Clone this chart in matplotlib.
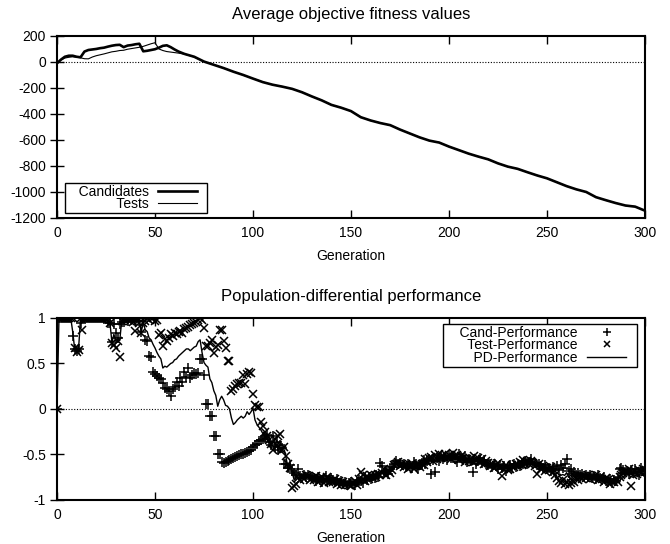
"""
Two-panel coevolution run summary, gnuplot look-alike.

Top:    average objective fitness of candidates and tests per generation
Bottom: population-differential performance (cand, test and PD)

Output: out.png
"""

import numpy as np
import matplotlib
matplotlib.use("Agg")
import matplotlib.pyplot as plt
from matplotlib.legend_handler import HandlerLine2D

plt.rcParams["font.family"] = ["Liberation Sans", "DejaVu Sans"]
plt.rcParams["font.size"] = 10
plt.rcParams["axes.unicode_minus"] = False

# ---- top panel: average objective fitness --------------------------------
FIT_GEN_EARLY = [0, 2, 4, 6, 8, 10, 12, 14, 16, 18, 20, 22, 24, 26, 28, 30,
                 32, 34, 36, 38, 40, 42, 44, 46, 48, 50, 52, 54, 56, 58, 60, 62]
FIT_GEN_LATE = [65, 70, 75, 80, 85, 90, 95, 100, 105, 110, 115, 120, 125, 130,
                135, 140, 145, 150, 155, 160, 165, 170, 175, 180, 185, 190, 195,
                200, 205, 210, 215, 220, 225, 230, 235, 240, 245, 250, 255, 260,
                265, 270, 275, 280, 285, 290, 295, 300]
FIT_GEN = FIT_GEN_EARLY + FIT_GEN_LATE

CAND_FIT = [-10, 18, 40, 48, 48, 40, 36, 80, 92, 96, 100, 106, 110, 118, 125, 130,
            132, 114, 126, 130, 136, 140, 82, 86, 92, 98, 110, 124, 128, 114, 96, 80,
            62, 40, 3, -22, -47, -75, -100, -128, -155, -175, -190, -207, -233, -265,
            -295, -330, -352, -378, -425, -450, -470, -486, -520, -550, -580, -605,
            -620, -651, -678, -705, -728, -749, -780, -805, -822, -848, -873, -895,
            -925, -955, -980, -1000, -1040, -1063, -1085, -1104, -1113, -1144]

TEST_FIT = [-3, 15, 30, 36, 40, 36, 32, 25, 24, 38, 48, 55, 62, 70, 78, 82,
            88, 90, 98, 103, 108, 113, 120, 130, 140, 148, 100, 88, 80, 76, 72, 68,
            60, 38, 2, -21, -48, -74, -101, -127, -154, -176, -189, -208, -232, -266,
            -294, -331, -351, -379, -424, -451, -469, -487, -519, -551, -579, -606,
            -619, -652, -677, -706, -727, -750, -779, -806, -821, -849, -872, -896,
            -924, -956, -979, -1001, -1039, -1064, -1084, -1105, -1112, -1145]

# ---- bottom panel: population-differential performance -------------------
PERF_GEN = np.arange(0, 301)

CAND_PERF = [
    0, 1, 1, 1, 1, 1, 1, 1, .80, .66,                              # 0-9
    .64, .66, .95, 1, 1, 1, 1, 1, 1, 1,                            # 10-19
    1, 1, 1, 1, 1, 1, .94, .94, .74, .93,                          # 20-29
    .84, .78, .93, .96, .96, 1, .97, 1, .98, 1,                    # 30-39
    .97, 1, .97, .85, 1, .76, .75, .58, .57, .41,                  # 40-49
    .38, .36, .34, .33, .28, .23, .22, .20, .14, .22,              # 50-59
    .24, .30, .25, .34, .30, .41, .35, .45, .34, .37,              # 60-69
    .40, .38, .39, .55, .55, .37, .05, .06, -.08, -.08,            # 70-79
    -.30, -.30, -.49, -.50, -.58, -.59, -.58, -.57, -.56, -.55,    # 80-89
    -.54, -.53, -.52, -.51, -.50, -.49, -.48, -.47, -.46, -.45,    # 90-99
    -.42, -.40, -.38, -.35, -.34, -.33, -.31, -.29, -.36, -.40,    # 100-109
    -.30, -.42, -.36, -.45, -.40, -.43, -.60, -.60, -.65, -.62,    # 110-119
    -.68, -.70, -.72, -.66, -.74, -.76, -.73, -.75, -.72, -.74, -.75,  # 120-130
    -.76, -.79, -.75, -.78, -.80, -.77, -.74, -.79, -.78, -.76,    # 131-140
    -.78, -.80, -.77, -.81, -.79, -.82, -.80, -.83, -.81, -.80,
    -.82, -.84, -.80, -.78, -.79, -.81, -.76, -.78, -.75, -.77,
    -.74, -.76, -.72, -.75, -.59, -.63, -.70, -.68, -.71, -.66,
    -.64, -.60, -.57, -.61, -.59, -.62, -.60, -.64, -.61, -.63,
    -.65, -.58, -.60, -.66, -.62, -.59, -.56, -.60, -.57, -.55,
    -.71, -.56, -.69, -.54, -.57, -.52, -.55, -.53, -.56, -.51,
    -.54, -.52, -.55, -.58, -.50, -.53, -.56, -.52, -.58, -.55,
    -.57, -.69, -.55, -.60, -.57, -.54, -.59, -.56, -.60, -.62,
    -.61, -.64, -.60, -.63, -.66, -.62, -.65, -.63, -.68, -.64,
    -.62, -.65, -.61, -.64, -.60, -.63, -.59, -.61, -.57, -.60,
    -.58, -.55, -.61, -.59, -.62, -.60, -.63, -.65, -.62, -.66,
    -.65, -.68, -.64, -.66, -.63, -.67, -.62, -.65, -.60, -.55,
    -.68, -.66, -.71, -.69, -.72, -.70, -.73, -.71, -.74, -.72,
    -.75, -.72, -.76, -.74, -.77, -.73, -.76, -.78, -.75, -.79,
    -.80, -.77, -.81, -.78, -.79, -.76, -.66, -.65, -.67, -.70,
    -.68, -.71, -.67, -.70, -.66, -.69, -.72, -.65, -.68, -.66,    # 291-300
]

TEST_PERF = [
    0, 1, 1, 1, 1, 1, 1, 1, 1, .67,
    .63, .65, 1, .87, 1, 1, 1, 1, 1, 1,
    1, 1, 1, 1, 1, 1, 1, .95, .72, .70,
    .67, .75, .57, .97, 1, 1, 1, .97, 1, .96,
    .86, 1, .95, .84, .95, .97, 1, .98, 1, 1,
    .97, .98, .81, .83, .69, .77, .75, .78, .82, .80,
    .83, .82, .85, .86, .84, .88, .89, .90, .92, .93,
    .95, .96, .98, 1, .98, .89, .69, .69, .73, .76,
    .62, .68, .70, .87, .87, .75, .67, .53, .53, .20,
    .22, .25, .27, .28, .29, .37, .27, .38, .41, .39,
    .17, .04, .02, .02, -.14, -.19, -.25, -.30, -.34, -.38,
    -.45, -.33, -.40, -.30, -.28, -.45, -.42, -.52, -.60, -.65,
    -.87, -.85, -.82, -.76, -.78, -.74, -.77, -.72, -.74, -.78, -.76,
    -.78, -.74, -.80, -.76, -.75, -.81, -.78, -.75, -.80, -.79,
    -.80, -.77, -.82, -.79, -.83, -.80, -.84, -.81, -.83, -.85,
    -.81, -.79, -.83, -.77, -.69, -.72, -.79, -.74, -.77, -.73,
    -.76, -.72, -.75, -.71, -.73, -.70, -.66, -.72, -.68, -.70,
    -.67, -.62, -.60, -.58, -.63, -.60, -.64, -.61, -.66, -.62,
    -.62, -.66, -.63, -.61, -.64, -.60, -.62, -.55, -.58, -.54,
    -.53, -.57, -.51, -.55, -.50, -.54, -.52, -.49, -.53, -.51,
    -.55, -.48, -.53, -.51, -.56, -.52, -.54, -.58, -.55, -.57,
    -.55, -.58, -.52, -.56, -.54, -.58, -.55, -.60, -.57, -.59,
    -.63, -.60, -.65, -.62, -.59, -.64, -.74, -.66, -.62, -.67,
    -.66, -.62, -.64, -.60, -.63, -.58, -.62, -.56, -.60, -.57,
    -.60, -.57, -.59, -.63, -.71, -.61, -.66, -.63, -.68, -.65,
    -.67, -.64, -.69, -.72, -.76, -.79, -.81, -.78, -.82, -.80,
    -.83, -.81, -.78, -.80, -.76, -.78, -.75, -.77, -.74, -.76,
    -.73, -.77, -.74, -.76, -.73, -.78, -.75, -.77, -.80, -.76,
    -.78, -.82, -.79, -.80, -.77, -.80, -.75, -.72, -.70, -.68,
    -.70, -.66, -.85, -.72, -.68, -.71, -.67, -.70, -.66, -.69,
]

PD_PERF = [
    0, 1, 1, 1, 1, 1, 1, 1, .85, .66,
    .64, .66, 1, .95, 1, 1, 1, 1, 1, 1,
    1, 1, 1, 1, 1, 1, .97, .95, .73, .82,
    .75, .77, .75, .97, .98, 1, .99, .99, .99, .98,
    .92, 1, .96, .85, .95, .87, .85, .78, .76, .71,
    .67, .62, .58, .55, .45, .47, .46, .48, .50, .51,
    .54, .55, .58, .60, .62, .64, .66, .66, .64, .66,
    .68, .69, .74, .76, .62, .51, .48, .46, .33, .29,
    .20, .15, .03, .10, .14, .10, .04, .03, .00, -.10,
    -.17, -.15, -.12, -.10, -.08, -.10, -.08, -.03, -.06, -.03,
    .01, -.12, -.17, -.20, -.23, -.27, -.30, -.33, -.37, -.37,
    -.36, -.38, -.40, -.46, -.48, -.45, -.45, -.55, -.67, -.63,
    -.70, -.78, -.75, -.72, -.73, -.75, -.75, -.74, -.74, -.76, -.75,
    -.76, -.77, -.77, -.77, -.78, -.78, -.77, -.77, -.78, -.78,
    -.79, -.79, -.80, -.80, -.81, -.81, -.82, -.82, -.82, -.82,
    -.82, -.81, -.80, -.79, -.78, -.78, -.77, -.76, -.76, -.75,
    -.75, -.74, -.73, -.73, -.70, -.69, -.69, -.70, -.69, -.68,
    -.66, -.62, -.60, -.60, -.61, -.61, -.62, -.62, -.63, -.63,
    -.64, -.63, -.62, -.63, -.62, -.60, -.59, -.57, -.56, -.55,
    -.58, -.56, -.58, -.55, -.54, -.53, -.53, -.52, -.54, -.52,
    -.54, -.51, -.53, -.54, -.53, -.53, -.55, -.55, -.56, -.56,
    -.57, -.59, -.56, -.57, -.56, -.56, -.57, -.58, -.59, -.60,
    -.61, -.62, -.62, -.63, -.63, -.63, -.66, -.65, -.65, -.65,
    -.64, -.64, -.63, -.62, -.62, -.61, -.60, -.59, -.59, -.58,
    -.59, -.58, -.60, -.61, -.63, -.62, -.64, -.64, -.65, -.66,
    -.66, -.66, -.67, -.68, -.70, -.72, -.73, -.72, -.73, -.70,
    -.75, -.73, -.75, -.74, -.74, -.75, -.74, -.74, -.74, -.74,
    -.74, -.75, -.75, -.75, -.75, -.76, -.76, -.77, -.77, -.78,
    -.79, -.79, -.80, -.79, -.78, -.78, -.74, -.70, -.69, -.69,
    -.69, -.69, -.70, -.70, -.68, -.69, -.70, -.68, -.67, -.67,
]

X_TICKS = [0, 50, 100, 150, 200, 250, 300]
FIT_TICKS = [200, 0, -200, -400, -600, -800, -1000, -1200]
PERF_TICKS = [1, 0.5, 0, -0.5, -1]
PERF_TICK_LABELS = ["1", "0.5", "0", "-0.5", "-1"]


class RightPaddedLine(HandlerLine2D):
    """Legend sample that leaves some blank room at its right end (gnuplot key)."""

    def create_artists(self, legend, orig_handle, xdescent, ydescent,
                       width, height, fontsize, trans):
        return super().create_artists(legend, orig_handle, xdescent, ydescent,
                                      width - 0.65 * fontsize, height,
                                      fontsize, trans)


def style_axes(ax):
    ax.set_xlim(0, 300)
    ax.set_xticks(X_TICKS)
    ax.tick_params(axis="x", direction="in", length=6, width=1, top=True, pad=6)
    ax.tick_params(axis="y", direction="inout", length=10, width=1, pad=3)
    for spine in ax.spines.values():
        spine.set_linewidth(1.5)
    ax.axhline(0, color="black", lw=0.8, ls=(0, (1, 1.5)), zorder=1)
    ax.set_xlabel("Generation", labelpad=6)


def gnuplot_key(ax, loc, anchor, labels, handlelength):
    handles = ax.get_legend_handles_labels()[0]
    leg = ax.legend(handles, labels, loc=loc, bbox_to_anchor=anchor,
                    borderaxespad=0, markerfirst=False, fancybox=False,
                    edgecolor="black", framealpha=1, borderpad=0.12,
                    labelspacing=-0.1, handlelength=handlelength,
                    handletextpad=0.65, markerscale=0.8,
                    handler_map={h: RightPaddedLine() for h in handles})
    leg.get_frame().set_linewidth(1.0)
    return leg


def main() -> None:
    assert len(CAND_PERF) == len(TEST_PERF) == len(PD_PERF) == len(PERF_GEN)

    fig = plt.figure(figsize=(6.7, 5.44), dpi=100)
    ax_w, ax_h = 588.0, 182.0  # axes size in pixels

    # top panel
    ax1 = fig.add_axes([0.0851, 0.5993, 0.8776, 0.3346])
    ax1.plot(FIT_GEN, CAND_FIT, color="black", lw=1.9, label="Candidates", zorder=3)
    ax1.plot(FIT_GEN, TEST_FIT, color="black", lw=0.8, label="Tests", zorder=2)
    ax1.set_ylim(-1200, 200)
    ax1.set_yticks(FIT_TICKS)
    style_axes(ax1)
    ax1.set_title("Average objective fitness values", pad=12)
    gnuplot_key(ax1, "lower left", (8 / ax_w, 5 / ax_h),
                ["   Candidates", "   Tests"], 3.45)

    # bottom panel
    ax2 = fig.add_axes([0.0851, 0.0809, 0.8776, 0.3346])
    ax2.plot(PERF_GEN, CAND_PERF, ls="none", marker="+", ms=6.5, mew=1.1,
             color="black", label="Cand-Performance", zorder=3)
    ax2.plot(PERF_GEN, TEST_PERF, ls="none", marker="x", ms=5.5, mew=1.1,
             color="black", label="Test-Performance", zorder=3)
    ax2.plot(PERF_GEN, PD_PERF, color="black", lw=1.0, label="PD-Performance",
             zorder=2)
    ax2.set_ylim(-1, 1)
    ax2.set_yticks(PERF_TICKS)
    ax2.set_yticklabels(PERF_TICK_LABELS)
    style_axes(ax2)
    ax2.set_title("Population-differential performance", pad=12)
    gnuplot_key(ax2, "upper right", (1 - 8 / ax_w, 1 - 6 / ax_h),
                ["    Cand-Performance", "    Test-Performance", "    PD-Performance"],
                3.5)

    fig.savefig("out.png", dpi=100)
    plt.close(fig)


if __name__ == "__main__":
    main()
